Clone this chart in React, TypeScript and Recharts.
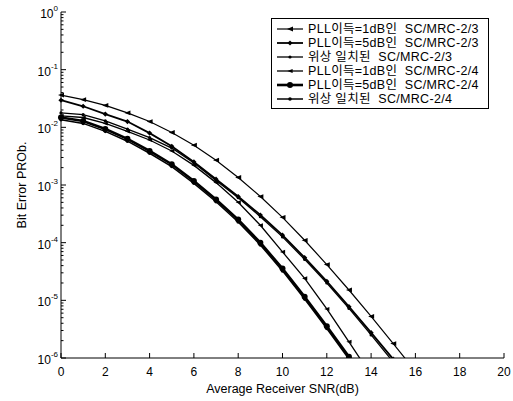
import React from "react";
import { LineChart, Line, XAxis, YAxis, Legend } from "recharts";

const FONT = '"Liberation Sans", Arial, "Noto Sans CJK KR", sans-serif';

// Es/No axis and BER (missing tail = below 1e-6)
const snrDb = [0, 1, 2, 3, 4, 5, 6, 7, 8, 9, 10, 11, 12, 13, 14, 15, 16];

const pll1dB23 = [3.63e-2, 3.02e-2, 2.4e-2, 1.78e-2, 1.26e-2, 8.13e-3, 4.9e-3, 2.69e-3, 1.35e-3, 6.31e-4, 2.75e-4, 1.1e-4, 4.17e-5, 1.51e-5, 5.25e-6, 1.78e-6, 5.89e-7];
const pll5dB23 = [2.95e-2, 2.32e-2, 1.7e-2, 1.26e-2, 7.94e-3, 4.68e-3, 2.51e-3, 1.26e-3, 6.31e-4, 3.02e-4, 1.35e-4, 5.5e-5, 2.14e-5, 7.76e-6, 2.75e-6, 9.55e-7, 3.16e-7];
const phase23 = [1.78e-2, 1.66e-2, 1.29e-2, 9.33e-3, 6.61e-3, 4.37e-3, 2.4e-3, 1.2e-3, 6.03e-4, 2.82e-4, 1.26e-4, 5.13e-5, 2.0e-5, 7.24e-6, 2.51e-6, 8.51e-7];
const pll1dB24 = [1.58e-2, 1.48e-2, 1.17e-2, 8.51e-3, 6.03e-3, 3.89e-3, 2.19e-3, 1.1e-3, 5.01e-4, 2.0e-4, 6.92e-5, 2.4e-5, 7.08e-6, 1.91e-6, 5.01e-7];
const pll5dB24 = [1.48e-2, 1.29e-2, 9.33e-3, 6.31e-3, 3.89e-3, 2.29e-3, 1.17e-3, 5.62e-4, 2.51e-4, 1.0e-4, 3.55e-5, 1.15e-5, 3.55e-6, 1.05e-6, 3.16e-7];
const phase24 = [1.35e-2, 1.17e-2, 8.51e-3, 5.75e-3, 3.55e-3, 2.09e-3, 1.07e-3, 5.13e-4, 2.29e-4, 9.12e-5, 3.24e-5, 1.05e-5, 3.24e-6, 9.55e-7];

const seriesNames = [
  "PLL이득=1dB인  SC/MRC-2/3",
  "PLL이득=5dB인  SC/MRC-2/3",
  "위상 일치된  SC/MRC-2/3",
  "PLL이득=1dB인  SC/MRC-2/4",
  "PLL이득=5dB인  SC/MRC-2/4",
  "위상 일치된  SC/MRC-2/4",
];

const xTicks = [0, 2, 4, 6, 8, 10, 12, 14, 16, 18, 20];
const yMajor = [1e-6, 1e-5, 1e-4, 1e-3, 1e-2, 1e-1, 1];
const yExp = ["-6", "-5", "-4", "-3", "-2", "-1", "0"];
const minorSteps = [2, 3, 4, 5, 6, 7, 8, 9];
const yMinor = yMajor.slice(0, 6).flatMap((d) => minorSteps.map((m) => m * d));

const data = snrDb.map((x, i) => ({
  snr: x,
  s0: pll1dB23[i],
  s1: pll5dB23[i],
  s2: phase23[i],
  s3: pll1dB24[i],
  s4: pll5dB24[i],
  s5: phase24[i],
}));

type MarkerKind = "tri" | "diamond" | "dot" | "circle";

const styles: { width: number; marker: MarkerKind; size: number }[] = [
  { width: 1.2, marker: "tri", size: 3 },
  { width: 1.8, marker: "diamond", size: 2.6 },
  { width: 1.3, marker: "dot", size: 1.6 },
  { width: 1.3, marker: "tri", size: 2.6 },
  { width: 2.6, marker: "circle", size: 3 },
  { width: 1.5, marker: "dot", size: 1.8 },
];

function drawMarker(kind: MarkerKind, cx: number, cy: number, s: number, key?: any) {
  if (kind === "tri")
    return <path key={key} d={`M${cx - s},${cy} L${cx + s},${cy - s * 0.8} L${cx + s},${cy + s * 0.8} Z`} fill="#000" />;
  if (kind === "diamond")
    return <path key={key} d={`M${cx},${cy - s} L${cx + s},${cy} L${cx},${cy + s} L${cx - s},${cy} Z`} fill="#000" />;
  return <circle key={key} cx={cx} cy={cy} r={s} fill="#000" />;
}

const makeDot = (kind: MarkerKind, size: number) => (p: any) => {
  const { cx, cy, index } = p;
  if (cx == null || cy == null || Number.isNaN(cy)) return <g key={index} />;
  return drawMarker(kind, cx, cy, size, index);
};

const LeftTick = (p: any) => {
  const { x, y, payload } = p;
  const k = yMajor.indexOf(payload.value);
  return (
    <g>
      <line x1={x} x2={x + (k >= 0 ? 5 : 2.5)} y1={y} y2={y} stroke="#000" />
      {k >= 0 && (
        <text x={x - 3} y={y + 6} textAnchor="end" fontSize={12} fontFamily={FONT} fill="#000">
          10
          <tspan dy={-7} fontSize={8}>
            {yExp[k]}
          </tspan>
        </text>
      )}
    </g>
  );
};

const RightTick = (p: any) => {
  const { x, y, payload } = p;
  const major = yMajor.indexOf(payload.value) >= 0;
  return <line x1={x} x2={x - (major ? 5 : 2.5)} y1={y} y2={y} stroke="#000" />;
};

const BottomTick = (p: any) => {
  const { x, y, payload } = p;
  return (
    <g>
      <line x1={x} x2={x} y1={y} y2={y - 5} stroke="#000" />
      <text x={x} y={y + 18} textAnchor="middle" fontSize={12} fontFamily={FONT} fill="#000">
        {String(payload.value)}
      </text>
    </g>
  );
};

const TopTick = (p: any) => {
  const { x, y } = p;
  return <line x1={x} x2={x} y1={y} y2={y + 5} stroke="#000" />;
};

const renderLegend = () => (
  <div
    style={{
      border: "1px solid #000",
      background: "#fff",
      width: 216,
      padding: "3px 0 2px 0",
      fontFamily: FONT,
      fontSize: 12.5,
      letterSpacing: 0.3,
      lineHeight: "14px",
      color: "#000",
    }}
  >
    {seriesNames.map((name, i) => (
      <div key={name} style={{ display: "flex", alignItems: "center", height: 14 }}>
        <svg width={36} height={12} style={{ flex: "none" }}>
          <line x1={5} x2={31} y1={6} y2={6} stroke="#000" strokeWidth={styles[i].width} />
          {drawMarker(styles[i].marker, 18, 6, styles[i].size)}
        </svg>
        <span style={{ whiteSpace: "pre" }}>{name}</span>
      </div>
    ))}
  </div>
);

export default function App() {
  return (
    <div style={{ position: "absolute", left: 0, top: 0, background: "#fff" }}>
      <LineChart width={513} height={401} data={data} margin={{ top: 12, right: 9, bottom: 13, left: 11 }}>
        <XAxis
          dataKey="snr"
          type="number"
          domain={[0, 20]}
          ticks={xTicks}
          interval={0}
          tickSize={0}
          tickMargin={0}
          height={30}
          stroke="#000"
          tick={<BottomTick />}
          label={{
            value: "Average Receiver SNR(dB)",
            position: "bottom",
            offset: -4,
            style: { fontFamily: FONT, fontSize: 12.5, fill: "#000" },
          }}
        />
        <XAxis
          xAxisId="top"
          orientation="top"
          dataKey="snr"
          type="number"
          domain={[0, 20]}
          ticks={xTicks}
          interval={0}
          tickSize={0}
          tickMargin={0}
          height={0}
          stroke="#000"
          tick={<TopTick />}
        />
        <YAxis
          scale="log"
          type="number"
          domain={[1e-6, 1]}
          allowDataOverflow
          ticks={[...yMajor, ...yMinor]}
          interval={0}
          tickSize={0}
          tickMargin={0}
          width={50}
          stroke="#000"
          tick={<LeftTick />}
          label={{
            value: "Bit Error PROb.",
            angle: -90,
            position: "insideLeft",
            offset: 11,
            style: { textAnchor: "middle", fontFamily: FONT, fontSize: 12.5, fill: "#000" },
          }}
        />
        <YAxis
          yAxisId="right"
          orientation="right"
          scale="log"
          type="number"
          domain={[1e-6, 1]}
          allowDataOverflow
          ticks={[...yMajor, ...yMinor]}
          interval={0}
          tickSize={0}
          tickMargin={0}
          width={0}
          stroke="#000"
          tick={<RightTick />}
        />
        <Legend
          layout="vertical"
          align="center"
          verticalAlign="middle"
          wrapperStyle={{ left: 271, top: 18 }}
          content={renderLegend}
        />
        {styles.map((s, i) => (
          <Line
            key={i}
            dataKey={`s${i}`}
            name={seriesNames[i]}
            type="linear"
            stroke="#000"
            strokeWidth={s.width}
            dot={makeDot(s.marker, s.size)}
            activeDot={false}
            connectNulls={false}
            isAnimationActive={false}
          />
        ))}
      </LineChart>
    </div>
  );
}
